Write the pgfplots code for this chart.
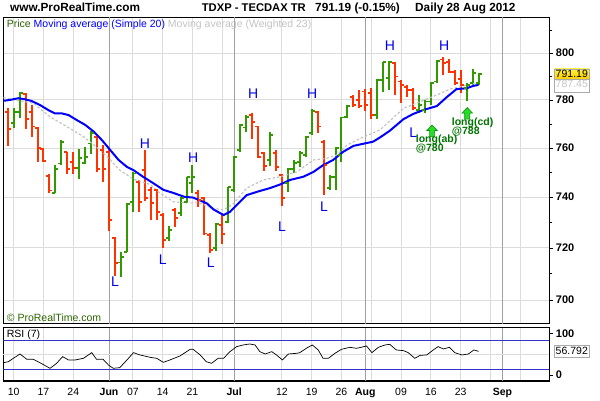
\documentclass[border=0pt]{standalone}
\usepackage{pgfplots}
\pgfplotsset{compat=1.18}
\usepackage{pgfplotstable}
\usepackage{fontspec}
\setmainfont{Liberation Sans}

\definecolor{upc}{RGB}{51,153,0}
\definecolor{dnc}{RGB}{255,51,0}
\definecolor{smac}{RGB}{0,0,255}
\definecolor{wmac}{RGB}{195,195,195}
\definecolor{gridc}{RGB}{220,220,220}
\definecolor{monc}{RGB}{160,160,160}
\definecolor{dkgreen}{RGB}{0,115,0}
\definecolor{legreen}{RGB}{40,100,0}
\definecolor{hlc}{RGB}{0,0,235}
\definecolor{rsib}{RGB}{51,51,204}
\definecolor{arrfill}{RGB}{40,220,40}
\definecolor{arredge}{RGB}{0,150,0}
\definecolor{boxedge}{RGB}{170,170,170}

\pgfdeclareplotmark{otick}{\pgfpathmoveto{\pgfqpoint{-3pt}{0pt}}\pgfpathlineto{\pgfqpoint{0pt}{0pt}}\pgfusepathqstroke}
\pgfdeclareplotmark{ctick}{\pgfpathmoveto{\pgfqpoint{0pt}{0pt}}\pgfpathlineto{\pgfqpoint{3pt}{0pt}}\pgfusepathqstroke}
\pgfdeclareplotmark{bigup}{%
 \pgfpathmoveto{\pgfqpoint{-2.5pt}{-5.8pt}}%
 \pgfpathlineto{\pgfqpoint{2.5pt}{-5.8pt}}%
 \pgfpathlineto{\pgfqpoint{2.5pt}{0.3pt}}%
 \pgfpathlineto{\pgfqpoint{5.2pt}{0.3pt}}%
 \pgfpathlineto{\pgfqpoint{0pt}{5.8pt}}%
 \pgfpathlineto{\pgfqpoint{-5.2pt}{0.3pt}}%
 \pgfpathlineto{\pgfqpoint{-2.5pt}{0.3pt}}%
 \pgfpathclose
 \pgfusepathqfillstroke}

% up (green) bars: index, open, high, low, close
\pgfplotstableread{
i o h l c
0 770.2 776.5 768.2 774.8
1 774.8 783.3 772.7 782.9
7 741.7 753.3 741.7 751.4
8 753.7 763.3 753.3 762.6
11 751.9 759.5 747.3 755.8
12 754.0 760.3 753.7 756.2
13 761.9 766.8 757.6 766.1
18 714.3 718.3 708.8 716.6
19 718.5 737.6 718.3 737.3
20 738.2 750.3 734.2 749.6
26 723.8 728.6 722.8 727.0
28 733.8 740.2 732.3 739.8
29 738.2 748.3 737.6 748.1
30 745.7 753.0 741.7 748.3
34 719.9 729.7 718.9 729.4
36 730.3 744.3 729.7 744.1
37 743.0 756.7 742.3 756.4
38 759.2 769.9 758.5 769.5
39 768.6 773.7 766.4 773.0
43 755.1 766.4 752.6 765.5
46 745.7 751.7 742.3 751.3
47 751.3 755.1 749.9 754.0
48 754.4 758.9 752.3 758.1
49 757.1 765.0 756.4 764.4
50 766.1 776.1 765.5 775.5
53 743.7 749.0 742.7 748.3
54 748.3 760.3 743.0 759.9
55 757.1 773.0 754.4 772.7
56 773.0 777.9 772.7 777.5
61 773.7 788.8 771.9 788.5
62 788.5 796.4 783.6 796.1
63 789.4 796.8 784.3 796.2
68 775.8 782.2 774.7 777.9
69 775.8 780.0 774.4 779.3
70 779.3 787.8 777.9 787.1
71 787.8 797.1 787.1 796.8
76 785.0 787.1 779.7 786.4
77 787.1 793.1 786.4 791.6
78 787.1 791.6 786.4 791.19
}\upbars

% down (red) bars
\pgfplotstableread{
i o h l c
-1 775.1 776.5 761.0 767.9
2 782.6 782.9 767.9 771.9
3 775.1 777.9 764.7 768.9
4 768.2 768.6 754.2 759.9
5 759.6 759.9 754.2 754.8
6 748.7 749.6 741.7 742.7
9 758.3 758.5 749.6 751.4
10 754.4 758.5 749.6 751.9
14 764.4 765.1 750.3 751.3
15 759.2 761.2 746.3 751.3
16 758.5 759.9 726.7 731.0
17 723.8 724.4 709.1 714.0
21 746.3 747.0 734.2 738.2
22 751.0 759.2 738.6 739.6
23 743.0 744.3 731.0 737.6
24 743.0 743.3 731.0 734.2
25 732.9 733.6 720.1 723.1
27 734.9 735.8 728.3 731.7
31 741.7 743.0 736.2 738.9
32 739.6 740.2 725.2 725.7
33 725.1 725.7 718.2 719.2
35 729.0 732.9 721.5 725.4
40 773.7 774.4 763.6 770.9
41 768.9 769.1 755.8 756.2
42 757.9 758.5 750.7 752.6
44 757.9 759.2 750.7 752.1
45 749.0 749.6 736.5 739.6
51 774.8 775.5 766.1 768.9
52 762.6 763.3 740.9 753.0
57 781.4 782.2 777.0 777.9
58 780.0 784.3 776.5 777.5
59 783.6 784.6 775.5 777.9
60 782.9 785.0 771.9 773.7
64 795.8 796.4 782.2 790.0
65 787.8 788.5 778.6 786.4
66 785.6 786.4 781.4 784.3
67 784.3 785.0 775.8 776.5
72 797.4 798.3 790.6 795.7
73 796.4 797.4 791.6 792.0
74 792.0 792.8 786.4 787.1
75 789.0 792.8 782.9 786.4
}\dnbars

\pgfplotsset{
  chartbase/.style={
    scale only axis, width=546pt,
    xmin=-1.745, xmax=89.87,
    axis line style={line width=1.1pt},
    xtick={0,5,10,20,25,30,35,45,50,55,60,65,70,75,80,85},
    extra x ticks={16,37,59,82},
    xtick style={draw=none},
    extra x tick style={major grid style={monc, line width=0.9pt}, xtick style={draw=none}},
    xmajorgrids,
    major grid style={gridc, line width=0.9pt},
    ytick pos=right, yticklabel pos=right, tick align=outside,
    major tick length=4pt, minor tick length=3pt,
    ytick style={black, line width=0.6pt},
    minor tick style={black, line width=0.6pt},
    yticklabel style={font=\bfseries\fontsize{11}{12}\selectfont, anchor=west, inner sep=0pt, xshift=2.4pt},
  }
}

\begin{document}
\begin{tikzpicture}[x=1pt,y=1pt]
\path[use as bounding box] (0,0) rectangle (600,400);

% ---------------- main price panel
\begin{axis}[chartbase,
  at={(3.3pt,76pt)}, anchor=south west, height=306.7pt,
  ymode=log, ymin=691, ymax=815.7,
  ytick={700,720,740,760,780,800}, yticklabels={700,720,740,760,780,800},
  minor ytick={710,730,750,770,790,810},
  ymajorgrids,
  xticklabels={}, extra x tick labels={},
]
% red bars
\addplot[forget plot, draw=none, mark=none,
  error bars/.cd, y dir=plus, y explicit, error mark=none,
  error bar style={draw=dnc, solid, line width=2pt}]
  table[x=i, y=l, y error expr=\thisrow{h}-\thisrow{l}] {\dnbars};
\addplot[forget plot, only marks, mark=otick, mark options={draw=dnc, solid, line width=1.8pt}]
  table[x=i, y=o] {\dnbars};
\addplot[forget plot, only marks, mark=ctick, mark options={draw=dnc, solid, line width=1.8pt}]
  table[x=i, y=c] {\dnbars};
% green bars
\addplot[forget plot, draw=none, mark=none,
  error bars/.cd, y dir=plus, y explicit, error mark=none,
  error bar style={draw=upc, solid, line width=2pt}]
  table[x=i, y=l, y error expr=\thisrow{h}-\thisrow{l}] {\upbars};
\addplot[forget plot, only marks, mark=otick, mark options={draw=upc, solid, line width=1.8pt}]
  table[x=i, y=o] {\upbars};
\addplot[forget plot, only marks, mark=ctick, mark options={draw=upc, solid, line width=1.8pt}]
  table[x=i, y=c] {\upbars};
% weighted MA 23
\addplot[wmac, line width=1.2pt, dash pattern=on 2.5pt off 2pt, mark=none] coordinates {
(-1.745,781.1) (3.3,778.6) (6.1,773.0) (8.9,768.9) (11.7,764.7) (14.5,759.2) (16.2,755.1)
(17.8,751.0) (20.1,747.3) (22.9,745.1) (24.5,741.7) (26.8,738.2) (29.0,737.8) (31.1,737.8)
(33.5,735.6) (35.2,734.9) (36.8,737.3) (39.1,743.7) (41.9,747.0) (44.7,748.3) (47.5,750.3)
(50.3,755.1) (52.5,755.8) (54.2,757.1) (55.9,761.2) (58.1,763.9) (61.5,767.5) (65.4,776.5)
(68.2,779.3) (71.0,782.2) (73.2,784.6) (78.0,787.45)};
% simple MA 20
\addplot[smac, line width=2pt, mark=none] coordinates {
(-1.745,779.7) (-0.62,780.0) (0.77,780.7) (1.9,780.3) (3.0,779.6) (4.4,777.9) (5.8,775.8)
(6.9,774.4) (8.05,774.4) (9.2,773.7) (10.6,771.6) (12.0,769.5) (13.4,766.8) (14.8,763.3)
(16.2,759.2) (17.6,755.1) (19.0,752.3) (20.1,751.0) (21.7,748.3) (23.4,745.7) (25.1,743.0)
(26.8,741.7) (28.7,740.1) (30.1,739.9) (31.1,738.9) (32.4,737.6) (33.5,735.2) (35.2,732.9)
(36.3,734.2) (37.7,737.6) (39.1,740.9) (41.0,742.3) (43.0,743.7) (44.7,745.1) (46.4,747.0)
(48.6,748.3) (50.3,750.3) (51.9,753.0) (53.6,755.1) (55.3,758.5) (57.0,760.9) (59.2,762.0)
(60.3,762.6) (61.5,764.4) (63.1,767.2) (65.4,772.0) (67.0,774.1) (68.7,775.8) (71.0,777.5)
(72.7,781.4) (74.3,784.6) (76.0,785.0) (77.1,786.0) (78.0,786.4)};
% buy signals
\addplot[only marks, mark=bigup, mark options={fill=arrfill, draw=arredge, line width=0.6pt, solid}]
  coordinates {(70.2,767.1) (76.1,774.4)};
\end{axis}

% ---------------- RSI panel
\begin{axis}[chartbase,
  at={(3.3pt,19pt)}, anchor=south west, height=53.3pt,
  ymin=-14.4, ymax=113.4,
  ytick={0,100}, yticklabels={0,100},
  extra y ticks={50}, extra y tick labels={},
  extra y tick style={ymajorgrids=true, ytick style={draw=none}},
  xticklabels={10,17,24,07,14,21,,12,19,26,,09,16,23,,},
  extra x tick labels={\textbf{Jun},\textbf{Jul},\textbf{Aug},\textbf{Sep}},
  xticklabel style={font=\fontsize{10.5}{12}\selectfont, anchor=north, inner sep=0pt, yshift=-2.6pt},
]
\addplot[rsib, line width=0.9pt, mark=none] coordinates {(-1.745,83.2) (89.87,83.2)};
\addplot[rsib, line width=0.9pt, mark=none] coordinates {(-1.745,14.4) (89.87,14.4)};
\addplot[black, line width=0.7pt, mark=none] coordinates {
(-1.745,29.5) (-0.9,31.9) (0.2,42.4) (1.06,50.4) (2.2,37.6) (3.3,37.6) (4.4,29.5) (6.1,16)
(7.2,28) (8.2,44) (9.2,36) (10.3,36) (11.7,40) (13.1,53.6) (13.9,37.6) (15,37.6) (15.9,24)
(16.7,16) (17.8,17.6) (19,36) (20.1,53.6) (21.2,48) (22.9,42.4) (24,40) (25.1,30.4) (26.2,36)
(27.9,45.6) (29.6,61.6) (30.1,61.6) (31.3,48) (32.3,32) (33.2,28) (34.3,40) (35.2,40) (36.3,56)
(37.4,68) (38.5,72) (39.6,74.4) (40.5,72) (41.3,56) (42.2,50.4) (43.3,56) (44.1,48) (45.1,36)
(46.1,50.4) (47.5,52) (48,53.6) (49.1,64) (50.1,72) (51.1,60) (51.9,40) (52.8,40) (53.9,52)
(55,61.6) (56.4,66.4) (57.5,64) (58.3,66.4) (59.2,69.6) (60.1,53.6) (61.2,66.4) (62.3,72)
(63.1,73.6) (64.2,60) (65.4,58.4) (66.2,53.6) (67.3,40) (68.2,47.2) (69.3,48) (70.4,60)
(71.2,68) (72.1,62.4) (73.1,66.4) (74,53.6) (75.2,48) (76.3,50.4) (77.2,60) (78,56.792)};
\end{axis}

% ---------------- texts
\begin{scope}[every node/.style={inner sep=0pt}]
\node[anchor=base west, font=\bfseries\fontsize{11.8}{13}\selectfont] at (10,388.7) {www.ProRealTime.com};
\node[anchor=base west, font=\bfseries\fontsize{11.2}{13}\selectfont] at (201.7,388.7) {TDXP - TECDAX TR};
\node[anchor=base west, font=\bfseries\fontsize{11.8}{13}\selectfont] at (315,388.7) {791.19 (-0.15\%)};
\node[anchor=base west, font=\bfseries\fontsize{11.8}{13}\selectfont] at (415,388.7) {Daily 28 Aug 2012};

\node[anchor=base west, font=\fontsize{10.5}{12}\selectfont] at (6.7,372.7)
  {\textcolor{legreen}{Price} \textcolor{smac}{Moving average (Simple 20)} \textcolor{wmac}{Moving average (Weighted 23)}};
\node[anchor=base west, font=\fontsize{10.5}{12}\selectfont, text=legreen] at (6.7,78.3) {© ProRealTime.com};
\node[anchor=base west, font=\fontsize{10.5}{12}\selectfont] at (6.7,62.5) {RSI (7)};

\begin{scope}[every node/.append style={font=\fontsize{14}{16}\selectfont, text=hlc}]
\node at (145,256.7) {H};
\node at (115,118.3) {L};
\node at (162.7,140.7) {L};
\node at (193.3,242.7) {H};
\node at (210.7,137.3) {L};
\node at (253.3,306.7) {H};
\node at (312.3,306) {H};
\node at (282,173.3) {L};
\node at (324,193.3) {L};
\node at (390,354.3) {H};
\node at (444.3,354.3) {H};
\node at (413.3,267.7) {L};
\end{scope}

\begin{scope}[every node/.append style={font=\bfseries\fontsize{10.5}{12}\selectfont, text=dkgreen, anchor=base west}]
\node at (415.7,257.3) {long(ab)};
\node at (415.7,248.3) {@780};
\node at (451.7,275) {long(cd)};
\node at (451.7,265.7) {@788};
\end{scope}

% last-value boxes
\draw[draw=boxedge, fill=white, line width=0.8pt] (554.3,308) rectangle (589.3,320.7);
\node[font=\fontsize{10.5}{12}\selectfont, text=wmac] at (571.8,316.5) {787.45};
\draw[draw=boxedge, top color={rgb,255:red,255;green,240;blue,60}, bottom color={rgb,255:red,255;green,205;blue,0}, line width=0.8pt] (554.3,320.7) rectangle (589.3,331);
\node[font=\fontsize{10.5}{12}\selectfont] at (571.8,325.8) {791.19};
\draw[draw=boxedge, fill=white, line width=0.8pt] (554.3,42.7) rectangle (589.3,55);
\node[font=\fontsize{10.5}{12}\selectfont] at (571.8,48.9) {56.792};
\end{scope}
\end{tikzpicture}
\end{document}
